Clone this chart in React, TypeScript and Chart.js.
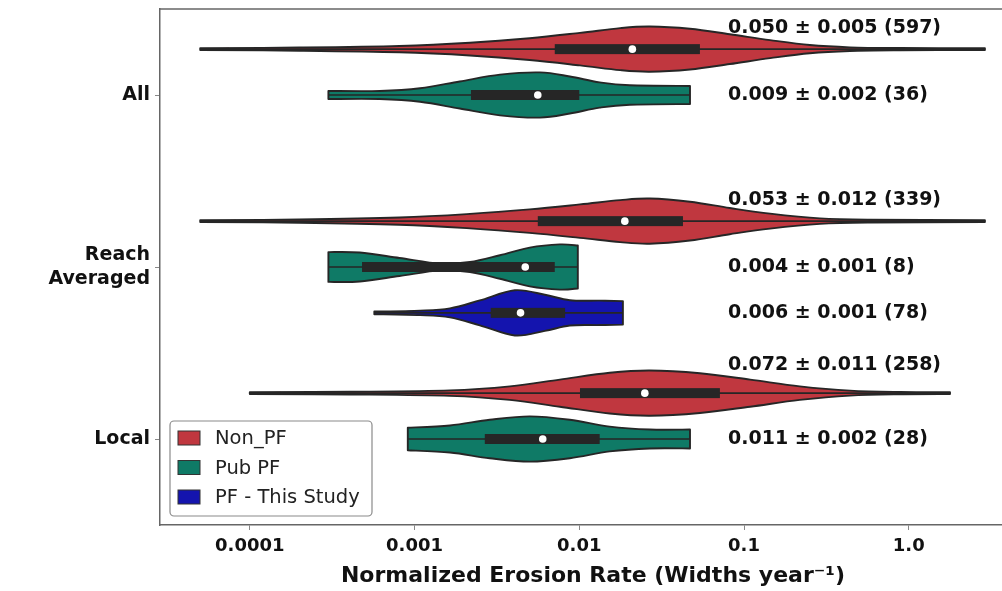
import React, { useEffect, useRef } from "react";
import { Chart, registerables } from "chart.js";

Chart.register(...registerables);

// ---------- data ----------
const categoryLabels: (string | string[])[] = ["All", ["Reach", "Averaged"], "Local"];
const hueNames = ["Non_PF", "Pub PF", "PF - This Study"];
const hueColors = ["#C0373F", "#0F7A66", "#1414AE"];

const xTickValues = [0.0001, 0.001, 0.01, 0.1, 1.0];
const xTickLabels = ["0.0001", "0.001", "0.01", "0.1", "1.0"];

// one entry per violin
const violinGroup = [0, 0, 1, 1, 1, 2, 2];
const violinHue = [0, 1, 0, 1, 2, 0, 1];
const violinMin = [5.0e-5, 3.0e-4, 5.0e-5, 3.0e-4, 5.7e-4, 1.0e-4, 9.1e-4];
const violinMax = [2.9, 0.047, 2.9, 0.0098, 0.0184, 1.78, 0.047];
const violinQ1 = [0.0071, 0.0022, 0.0056, 0.00048, 0.0029, 0.0101, 0.00267];
const violinMedian = [0.021, 0.0056, 0.0189, 0.0047, 0.0044, 0.025, 0.006];
const violinQ3 = [0.054, 0.01, 0.0426, 0.0071, 0.0082, 0.0714, 0.0133];

// density profiles: positions (erosion rate) and relative width
const profileX: number[][] = [
  [5.0e-5, 2.0e-4, 8.1e-4, 2.17e-3, 5.0e-3, 1.01e-2, 1.77e-2, 2.68e-2, 4.7e-2, 8.2e-2, 0.144, 0.251, 0.44, 0.885, 2.9],
  [3.0e-4, 6.15e-4, 1.08e-3, 1.88e-3, 3.3e-3, 5.77e-3, 8.77e-3, 1.33e-2, 2.03e-2, 4.7e-2],
  [5.0e-5, 2.0e-4, 8.1e-4, 2.17e-3, 5.0e-3, 1.01e-2, 1.77e-2, 2.68e-2, 4.7e-2, 8.2e-2, 0.144, 0.289, 0.581, 2.9],
  [3.0e-4, 4.66e-4, 8.1e-4, 1.43e-3, 2.17e-3, 3.3e-3, 5.0e-3, 7.62e-3, 9.8e-3],
  [5.7e-4, 1.08e-3, 1.64e-3, 2.49e-3, 4.06e-3, 6.18e-3, 8.77e-3, 1.33e-2, 1.84e-2],
  [1.0e-4, 4.05e-4, 1.64e-3, 3.79e-3, 7.62e-3, 1.53e-2, 2.68e-2, 5.4e-2, 0.109, 0.218, 0.44, 0.885, 1.78],
  [9.1e-4, 1.64e-3, 2.86e-3, 5.0e-3, 8.77e-3, 1.53e-2, 2.68e-2, 4.7e-2],
];
const profileW: number[][] = [
  [0.04, 0.07, 0.14, 0.28, 0.48, 0.72, 0.93, 1.0, 0.9, 0.66, 0.4, 0.18, 0.08, 0.05, 0.04],
  [0.18, 0.18, 0.3, 0.6, 0.9, 1.0, 0.82, 0.56, 0.43, 0.4],
  [0.04, 0.07, 0.16, 0.32, 0.52, 0.74, 0.93, 1.0, 0.86, 0.58, 0.33, 0.12, 0.06, 0.04],
  [0.66, 0.64, 0.4, 0.15, 0.22, 0.52, 0.86, 1.0, 0.95],
  [0.06, 0.1, 0.2, 0.55, 1.0, 0.8, 0.56, 0.54, 0.52],
  [0.04, 0.06, 0.12, 0.3, 0.6, 0.9, 1.0, 0.88, 0.6, 0.3, 0.11, 0.05, 0.04],
  [0.5, 0.6, 0.85, 1.0, 0.85, 0.55, 0.42, 0.42],
];

const annotationText = [
  "0.050 \u00B1 0.005 (597)",
  "0.009 \u00B1 0.002 (36)",
  "0.053 \u00B1 0.012 (339)",
  "0.004 \u00B1 0.001 (8)",
  "0.006 \u00B1 0.001 (78)",
  "0.072 \u00B1 0.011 (258)",
  "0.011 \u00B1 0.002 (28)",
];
const annotationLevel = [-0.39, 0, 0.61, 1.0, 1.27, 1.57, 2.0];
const annotationAt = 0.08;

const xTitle = "Normalized Erosion Rate (Widths year\u207B\u00B9)";

// ---------- helpers ----------
const HUE_STEP = 0.8 / 3;
const HALF_WIDTH = HUE_STEP / 2 - 0.002;
const BOX_HALF = 0.029;
const FONT = "'DejaVu Sans', sans-serif";

function violinCenter(i: number) {
  return violinGroup[i] + (violinHue[i] - 1) * HUE_STEP;
}

type P = { x: number; y: number };
function smooth(ctx: CanvasRenderingContext2D, pts: P[], move: boolean) {
  if (move) ctx.moveTo(pts[0].x, pts[0].y);
  else ctx.lineTo(pts[0].x, pts[0].y);
  for (let i = 0; i < pts.length - 1; i++) {
    const p0 = pts[i - 1] || pts[i];
    const p1 = pts[i];
    const p2 = pts[i + 1];
    const p3 = pts[i + 2] || pts[i + 1];
    const t = 1 / 6;
    ctx.bezierCurveTo(
      p1.x + (p2.x - p0.x) * t,
      p1.y + (p2.y - p0.y) * t,
      p2.x - (p3.x - p1.x) * t,
      p2.y - (p3.y - p1.y) * t,
      p2.x,
      p2.y
    );
  }
}

const violinPlugin = {
  id: "violins",
  beforeDatasetsDraw(chart: any) {
    const ctx: CanvasRenderingContext2D = chart.ctx;
    const xs = chart.scales.x;
    const ys = chart.scales.y;
    const area = chart.chartArea;
    ctx.save();
    ctx.beginPath();
    ctx.rect(area.left, area.top, area.right - area.left, area.bottom - area.top);
    ctx.clip();
    for (let i = 0; i < violinGroup.length; i++) {
      const c = violinCenter(i);
      const top: P[] = profileX[i].map((v, k) => ({
        x: xs.getPixelForValue(v),
        y: ys.getPixelForValue(c - profileW[i][k] * HALF_WIDTH),
      }));
      const bot: P[] = profileX[i]
        .map((v, k) => ({
          x: xs.getPixelForValue(v),
          y: ys.getPixelForValue(c + profileW[i][k] * HALF_WIDTH),
        }))
        .reverse();
      ctx.beginPath();
      smooth(ctx, top, true);
      smooth(ctx, bot, false);
      ctx.closePath();
      ctx.fillStyle = hueColors[violinHue[i]];
      ctx.fill();
      ctx.lineJoin = "round";
      ctx.lineWidth = 1.9;
      ctx.strokeStyle = "#262626";
      ctx.stroke();

      // whisker line
      const cy = ys.getPixelForValue(c);
      ctx.beginPath();
      ctx.moveTo(xs.getPixelForValue(violinMin[i]), cy);
      ctx.lineTo(xs.getPixelForValue(violinMax[i]), cy);
      ctx.lineWidth = 1.6;
      ctx.strokeStyle = "#262626";
      ctx.stroke();

      // box
      const x1 = xs.getPixelForValue(violinQ1[i]);
      const x2 = xs.getPixelForValue(violinQ3[i]);
      const yTop = ys.getPixelForValue(c - BOX_HALF);
      const yBot = ys.getPixelForValue(c + BOX_HALF);
      ctx.fillStyle = "#262626";
      ctx.fillRect(x1, yTop, x2 - x1, yBot - yTop);
    }
    ctx.restore();
  },
  afterDraw(chart: any) {
    const ctx: CanvasRenderingContext2D = chart.ctx;
    const xs = chart.scales.x;
    const ys = chart.scales.y;
    const area = chart.chartArea;
    ctx.save();
    // top frame
    ctx.beginPath();
    ctx.moveTo(area.left, area.top);
    ctx.lineTo(area.right, area.top);
    ctx.lineWidth = 1.5;
    ctx.strokeStyle = "#666";
    ctx.stroke();

    // annotations
    ctx.font = `bold 19px ${FONT}`;
    ctx.fillStyle = "#111";
    ctx.textBaseline = "middle";
    ctx.textAlign = "left";
    const ax = xs.getPixelForValue(annotationAt);
    annotationText.forEach((t, i) => {
      ctx.fillText(t, ax, ys.getPixelForValue(annotationLevel[i]));
    });

    // legend
    const lx = area.left + 10;
    const lw = 202;
    const lh = 95;
    const ly = area.bottom - 9 - lh;
    ctx.beginPath();
    (ctx as any).roundRect(lx, ly, lw, lh, 4);
    ctx.fillStyle = "rgba(255,255,255,0.85)";
    ctx.fill();
    ctx.lineWidth = 1.2;
    ctx.strokeStyle = "#8a8a8a";
    ctx.stroke();
    ctx.font = `19.5px ${FONT}`;
    hueNames.forEach((name, k) => {
      const cy = ly + 17 + k * 29.5;
      ctx.fillStyle = hueColors[k];
      ctx.fillRect(lx + 8, cy - 7, 22, 14);
      ctx.lineWidth = 1;
      ctx.strokeStyle = "#333";
      ctx.strokeRect(lx + 8, cy - 7, 22, 14);
      ctx.fillStyle = "#222";
      ctx.fillText(name, lx + 45, cy + 1);
    });
    ctx.restore();
  },
};

export default function App() {
  const ref = useRef<HTMLCanvasElement | null>(null);
  useEffect(() => {
    if (!ref.current) return;
    const chart = new Chart(ref.current, {
      type: "scatter",
      data: {
        datasets: [
          {
            label: "median",
            data: violinMedian.map((m, i) => ({ x: m, y: violinCenter(i) })),
            pointRadius: 3.8,
            pointBackgroundColor: "#ffffff",
            pointBorderColor: "#ffffff",
            pointBorderWidth: 0,
            pointHoverRadius: 3.8,
          },
        ],
      },
      plugins: [violinPlugin],
      options: {
        responsive: false,
        animation: false,
        events: [],
        layout: { padding: { top: 9, right: 4, left: 0, bottom: 0 } },
        plugins: { legend: { display: false }, tooltip: { enabled: false } },
        scales: {
          x: {
            type: "logarithmic",
            min: 2.85e-5,
            max: 5.15,
            afterBuildTicks: (s: any) => {
              s.ticks = xTickValues.map((v) => ({ value: v }));
            },
            afterFit: (s: any) => {
              s.height = 66;
              s.paddingLeft = 0;
              s.paddingRight = 0;
            },
            ticks: {
              autoSkip: false,
              maxRotation: 0,
              padding: 6,
              color: "#111",
              font: { family: FONT, size: 18, weight: "bold" },
              callback: (_v: any, idx: number) => xTickLabels[idx],
            },
            grid: { drawOnChartArea: false, drawTicks: true, tickLength: 5, color: "#888" },
            border: { display: true, color: "#666", width: 1.5 },
            title: {
              display: true,
              text: xTitle,
              color: "#111",
              font: { family: FONT, size: 22, weight: "bold" },
              padding: { top: 0, bottom: 2 },
            },
          },
          y: {
            type: "linear",
            reverse: true,
            min: -0.5,
            max: 2.5,
            afterBuildTicks: (s: any) => {
              s.ticks = [0, 1, 2].map((v) => ({ value: v }));
            },
            afterFit: (s: any) => {
              s.width = 160;
              s.paddingTop = 0;
              s.paddingBottom = 0;
            },
            ticks: {
              autoSkip: false,
              padding: 5,
              color: "#111",
              font: { family: FONT, size: 19, weight: "bold", lineHeight: 1.25 },
              callback: (_v: any, idx: number) => categoryLabels[idx] as any,
            },
            grid: { drawOnChartArea: false, drawTicks: true, tickLength: 5, color: "#888" },
            border: { display: true, color: "#666", width: 1.5 },
          },
        },
      },
    });
    return () => chart.destroy();
  }, []);

  return (
    <div
      style={{
        position: "fixed",
        left: 0,
        top: 0,
        width: 1002,
        height: 591,
        overflow: "hidden",
        background: "#fff",
      }}
    >
      <canvas ref={ref} width={1030} height={591} style={{ display: "block" }} />
    </div>
  );
}
